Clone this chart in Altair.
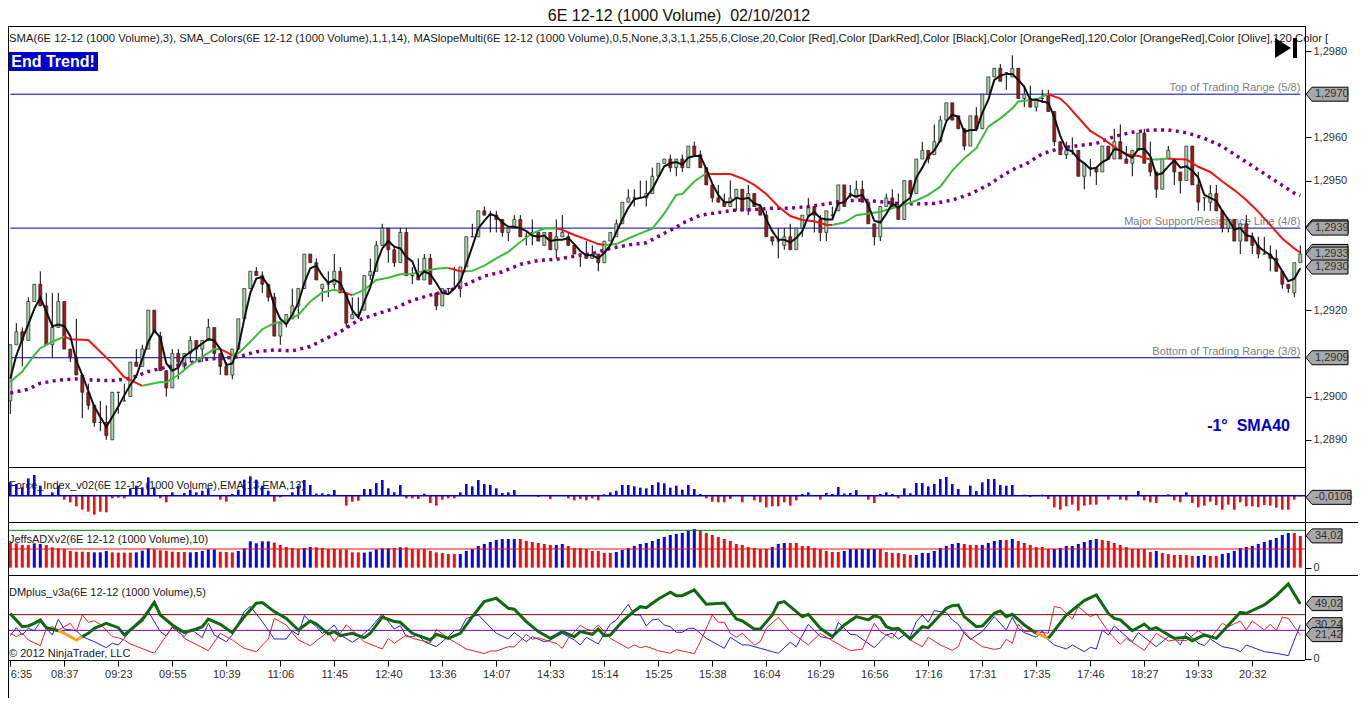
import altair as alt
import pandas as pd

FONT = "Liberation Sans"
TITLE = ["6E 12-12 (1000 Volume)\u00a0\u00a002/10/2012"]
SLOPE = ["-1°\u00a0\u00a0SMA40"]
IND_MAIN = ["SMA(6E 12-12 (1000 Volume),3), SMA_Colors(6E 12-12 (1000 Volume),1,1,14), MASlopeMulti(6E 12-12 (1000 Volume),0,5,None,3,3,1,1,255,6,Close,20,Color [Red],Color [DarkRed],Color [Black],Color [OrangeRed],120,Color [OrangeRed],Color [Olive],120,Color ["]
IND_FORCE = ["Force_Index_v02(6E 12-12 (1000 Volume),EMA,13,EMA,13)"]
IND_ADX = ["JeffsADXv2(6E 12-12 (1000 Volume),10)"]
IND_DM = ["DMplus_v3a(6E 12-12 (1000 Volume),5)"]
COPYR = ["© 2012 NinjaTrader, LLC"]
TIMES = ["6:35","08:37","09:23","09:55","10:39","11:06","11:45","12:40","13:36","14:07","14:33","15:14",
         "15:25","15:38","16:04","16:29","16:56","17:16","17:31","17:35","17:46","18:27","19:33","20:32"]

# prices are pips above 1,2900
o = [-1,12,15,13,22,26,21,12,16,22, 11,9,5,1,-2,-6,-6,-10,1,-1, 0,8,7,11,20,14,6,2,10,7,
     10,13,11,13,16,10,7,5,11,18, 25,29,28,26,23,14,17,18,21,25, 33,31,25,26,26,29,24,18,19,20,
     28,29,35,39,34,31,38,28,28,27, 32,24,21,25,25,25,30,37,37,43, 42,42,41,38,39,41,37,38,38,35,
     38,34,37,37,35,33,33,32,33,31, 36,37,40,45,46,46,46,47,51,54, 55,53,55,53,58,56,53,49,46,45,
     44,46,48,43,47,44,42,37,36,35, 37,34,39,42,44,41,38,42,43,49, 47,46,48,45,40,37,44,46,44,41,
     50,47,55,57,56,59,64,68,65,62, 58,65,62,70,74,76,75,74,76,69, 69,67,69,70,66,59,56,57,57,51,
     53,53,52,58,55,59,55,54,57,61, 54,52,48,55,55,52,50,58,49,46, 45,47,43,39,41,36,40,37,35,33,
     33,32,29,26,24,31]
c = [12,15,13,22,26,21,12,16,22,11, 9,5,1,-2,-6,-6,-9,1,1,-1, 8,7,11,20,15,6,2,10,8,10,
     13,11,13,16,10,7,5,11,18,25, 29,28,26,23,14,17,19,21,25,33, 31,27,26,26,29,24,17,19,19,28,
     29,35,39,34,31,38,28,28,27,32, 26,21,25,25,25,30,37,37,43,42, 42,41,38,39,41,37,37,38,36,38,
     34,37,38,35,33,33,32,33,31,36, 38,40,45,46,46,46,47,51,54,55, 53,55,53,58,56,53,49,46,45,44,
     46,48,43,47,44,42,37,36,36,37, 34,39,42,44,42,38,43,42,49,44, 47,48,45,40,37,44,46,44,41,50,
     47,55,57,55,59,64,68,64,62,58, 65,62,70,74,76,73,75,76,69,70, 67,69,69,66,59,56,57,57,51,54,
     53,52,58,55,59,55,54,57,61,54, 52,48,55,57,52,50,58,49,45,46, 47,43,39,41,36,40,36,35,33,33,
     32,29,26,25,31,33]
h = [12,17,16,23,26,29,24,24,24,22, 11,18,5,3,-2,-1,-2,1,1,3, 8,11,12,20,20,15,6,11,11,10,
     14,13,13,18,16,10,8,11,18,25, 29,30,29,26,24,17,19,25,25,33, 33,32,26,29,33,30,24,23,23,28,
     32,36,40,39,35,39,39,30,32,33, 33,24,25,25,30,30,37,40,43,44, 43,43,41,39,42,42,38,41,38,38,
     38,41,42,38,35,33,36,35,33,36, 38,41,45,48,48,50,50,53,54,55, 56,55,56,58,59,57,53,49,49,47,
     50,48,48,49,47,44,43,37,39,39, 40,39,42,46,44,42,43,44,49,49, 49,50,50,45,40,44,47,48,47,50,
     50,55,59,57,63,65,68,68,65,62, 65,67,70,74,76,77,75,79,76,72, 72,69,71,71,66,59,59,60,57,54,
     55,53,58,58,62,63,58,57,61,62, 59,52,55,58,55,52,58,58,52,46, 49,49,43,41,41,40,42,38,37,37,
     35,34,29,26,31,35]
l = [-4,12,7,13,22,21,12,9,16,11, 8,5,-5,-3,-7,-8,-10,-10,-4,-1, 0,7,7,11,15,6,0,2,4,6,
     8,8,8,13,9,5,5,4,11,18, 25,28,24,22,14,12,16,18,18,25, 31,27,22,23,25,24,16,18,18,20,
     27,29,35,31,30,31,28,26,27,27, 26,20,21,24,25,23,30,37,37,42, 38,38,37,36,39,37,35,35,36,35,
     34,32,37,35,33,30,32,32,29,31, 36,37,40,45,44,46,44,47,51,54, 52,51,52,53,56,53,49,45,45,44,
     44,43,43,42,44,42,37,35,32,34, 34,34,37,42,38,36,36,41,43,44, 46,46,45,40,35,36,44,44,41,41,
     45,47,55,54,56,59,64,64,62,57, 58,62,62,70,74,73,71,74,69,67, 67,66,68,66,58,56,55,56,51,48,
     51,49,52,55,55,55,54,51,57,54, 51,46,48,55,49,47,50,49,43,43, 43,43,38,38,36,33,36,33,32,33,
     29,29,25,24,23,31]
sma3 = [4.2,9.5,13.3,16.7,20.3,23,19.7,16.3,16.7,16.3, 14,8.3,5,1.3,-2.3,-4.7,-7,-4.7,-2.3,0.3,
        2.7,4.7,8.7,12.7,15.3,13.7,7.7,6,6.7,9.3, 10.3,11.3,12.3,13.3,13,11,7.3,7.7,11.3,18,
        24,27.3,27.7,25.7,21,18,16.7,19,21.7,26.3, 29.7,30.3,28,26.3,27,26.3,23.3,20,18.3,22,
        25.3,30.7,34.3,36,34.7,34.3,32.3,31.3,27.7,29, 28.3,26.3,24,23.7,25,26.7,30.7,34.7,39,40.7,
        42.3,41.7,40.3,39.3,39.3,39,38.3,37.3,37,37.3, 36,36.3,36.3,36.7,35.3,33.7,32.7,32.7,32,33.3,
        35,38,41,43.7,45.7,46,46.3,48,50.7,53.3, 54,54.3,53.7,55.3,55.7,55.7,52.7,49.3,46.7,45,
        45,46,45.7,46,44.7,44.3,41,38.3,36.3,36.3, 35.7,36.7,38.3,41.7,42.7,41.3,41,41,44.7,45,
        46.7,46.3,46.7,44.3,40.7,40.3,42.3,44.7,43.7,45, 46,50.7,53,55.7,57,59.3,63.7,65.3,64.7,61.3,
        61.7,61.7,65.7,68.7,73.3,74.3,74.7,74.7,73.3,71.7, 68.7,68.7,68.3,68,64.7,60.3,57.3,56.7,55,54,
        52.7,53,54.3,55,57.3,57,56,55.3,57.3,57.3, 55.7,51.3,51.7,53.3,54.7,53,53.3,52.3,50.7,46.7,
        46,45.3,43,41,38.7,39,37.3,37,34.7,33.7, 32.7,31.3,29,26.7,27.3,29.7]

# SMA_Colors line, by colour run
G, R = "#3dbb3d", "#f01414"
ma_runs = [
 (G,[0,2,4,5,7,9],[3.4,5.8,9.6,11.2,12.7,13.9]),
 (R,[9,10,13,15,17,19,20,22],[13.9,13.3,13.1,10.4,7.7,4.5,3.8,2.5]),
 (G,[22,23,25,26,28,30,32,34,35],[2.5,2.8,3.4,3.3,5,7.3,9.2,11,11]),
 (R,[35,37],[11,9.6]),
 (G,[37,38,40,42,44,46,48,50,52,54,55],[9.6,10,12.7,15.6,17,17.6,18.9,22,24.1,24.7,24.4]),
 (R,[55,57],[24.4,23.5]),
 (G,[57,59,61,63,65,67,69,71,73],[23.5,24.7,27,27.5,28.3,28.4,29.1,29.6,29.8]),
 (R,[73,75,76],[29.8,29,29]),
 (G,[76,77,79,81,83,85,87,89,91],[29,29.1,30.3,32,33.5,35.8,37.8,38.9,38.9]),
 (R,[91,92,94,96,98,99],[38.9,38.6,37.4,36.4,35.3,35.1]),
 (G,[99,101,103,105,107,109,111,112,114,116],[35.1,35.3,36.6,37.8,38.9,42.4,46.7,46.9,49.8,51.7]),
 (R,[116,117,120,122,124,126,128,130,132,134,136,137],[51.7,51.5,51.5,50.5,49,46.9,44,41.8,40.9,40.6,39.8,39.7]),
 (G,[137,139,141,143,145,147,149,151,153,155,157,159,161,163,165,167,168,169,171,173],
    [39.7,40.3,42,42.4,42.8,43.6,44.4,45.4,46.7,48.6,52.3,55.2,57.5,62.5,64.4,66.7,68.3,68.5,68.8,70]),
 (R,[173,175,176,178,180,182,184,186,188,190],[70,69,67.7,64.6,61.5,59.8,57.8,56.1,55.7,54.9]),
 (G,[190,191,192,193],[54.9,54.9,55,55.1]),
 (R,[193,194,196,198,200,202,204,206,208,210,212,214,215],[55.1,55,54.9,53.2,52,49.8,47.8,45.5,42.8,39.7,36.6,34.3,33.3]),
]
pur_i = [0,3,5,8,11,14,17,20,23,26,29,32,35,38,41,44,47,50,53,55,58,61,64,67,70,73,76,79,82,85,88,91,94,97,100,103,106,109,111,
         112,115,118,121,124,127,130,133,136,139,142,145,148,151,154,157,160,163,166,168,169,172,175,178,181,184,187,190,193,196,199,202,205,208,211,214,215]
pur_v = [0.8,1.7,3.1,3.8,4.1,3.8,3.7,4.2,5.8,6.8,7.5,8.5,8.9,9.2,10.4,10.8,10.6,11.6,13.7,15,17.7,19.1,20.4,22.3,23.5,24.5,26,27.9,28.9,30.6,31.5,31.8,32.5,33.1,34.3,35.1,35.6,37.8,39.2,
         40.1,42,42.6,43.2,43.3,43.6,43.6,44,44.6,45.3,45.5,45.1,44.7,44.6,44.7,45.5,46.9,49,51.7,53.2,53.6,56.2,57.5,58.1,58.6,60.2,61.2,61.7,61.7,61.1,59.8,57.9,55.2,52.5,49.8,47.1,46.5]

force = [40,35,25,52,62,30,0,10,30,-12, -20,-32,-42,-48,-57,-48,-50,-8,-6,-8, 22,30,25,55,25,-8,-20,10,2,8,
         18,10,15,22,2,-12,-18,5,18,48, 58,48,30,15,-18,-5,2,10,30,47, 32,6,7,5,17,0,-30,-18,-15,20,
         20,38,47,22,10,32,-8,-8,-10,6, -22,-30,-12,-8,-8,10,35,28,47,35, 32,22,8,10,17,0,0,0,-4,0,
         -10,0,0,-8,-14,-10,-14,-8,-14,4, 10,15,32,32,28,24,22,32,40,37, 24,30,18,32,20,5,-8,-18,-20,-20,
         -10,0,-20,0,-14,-20,-35,-32,-32,-20, -30,-14,5,10,0,-12,8,5,26,6, 8,17,2,-12,-22,5,10,5,-8,22,
         7,38,38,28,35,50,56,35,20,0, 30,14,40,50,50,32,30,32,0,3, -4,0,3,-10,-35,-42,-32,-27,-45,-30,
         -27,-27,0,-12,0,-12,-14,0,14,-14, -20,-22,0,4,-14,-20,10,-22,-35,-30, -18,-28,-42,-27,-42,-20,-32,-32,-35,-28,
         -30,-36,-42,-42,-12,-2]

adx = [27.1,26.1,24.3,24.3,26.1,25.4,24.3,21.8,20.7,20, 17.9,17.1,17.1,16.8,16.4,16.4,17.9,16.4,16.1,16.1,
       16.1,16.4,18.2,20.7,19.6,18.6,17.9,17.1,16.8,16.8, 16.4,16.8,17.9,19.6,19.6,17.1,16.8,16.4,17.9,20.7,
       28.2,26.1,28.2,28.2,26.8,24.3,22.1,21.1,20,21.1, 22.1,21.8,21.1,20,20,19.6,19.6,16.4,16.4,16.1,
       17.1,19.6,20.7,20.7,21.1,21.8,21.8,20,19.6,20, 17.9,16.4,15.7,14.6,14.6,14.6,17.9,20,23.2,25.4,
       27.5,29.6,30.7,30.7,30.7,30.7,28.6,27.5,26.4,25.4, 24.3,24.3,25.4,23.2,21.1,21.1,20,17.9,17.9,15.7,
       15.7,16.8,18.9,21.1,23.2,25.4,26.4,28.6,30.7,32.9, 35,36.1,37.1,40,41.4,40,37.1,35,32.9,30.7,
       28.6,25.4,24.3,22.1,21.1,20,20,22.1,25.4,26.4, 26.4,26.4,23.2,23.2,21.1,20,17.9,16.8,16.8,17.9,
       20,20,20,20,20,20,16.8,15.7,15.7,14.6, 13.6,13.6,15.7,15.7,17.9,21.1,23.2,25.4,26.4,25.4,
       24.3,24.3,24.3,26.4,28.6,29.6,29.6,30.7,28.6,26.4, 24.3,22.1,22.1,20,20,21.1,23.2,23.2,25.4,27.5,
       29.6,30.7,29.6,28.6,26.4,24.3,22.1,20,20,20, 16.8,17.9,15.7,14.6,13.6,13.6,13.6,12.5,12.5,13.6,
       12.5,12.5,14.6,15.7,17.9,21.1,22.1,23.2,25.4,27.5, 29.6,31.8,35,37.1,37.1,34.02]
# colour of the ADX histogram, run by run
adx_runs = [("r",4),("b",2),("r",8),("b",3),("r",4),("b",3),("r",6),("b",5),("r",3),("b",6),("r",5),("b",2),
            ("r",8),("b",5),("r",1),("b",1),("r",9),("b",10),("r",6),("b",2),("r",8),("b",14),("r",12),("b",3),
            ("r",9),("b",6),("r",6),("b",8),("r",3),("b",4),("r",1),("b",1),("r",6),("b",8),("r",9),("b",1),
            ("r",6),("b",2),("r",2),("b",12),("r",2)]

dm_g_i = [0,2,3,4,5,6,8]
dm_g_v = [40.1,28.5,29.1,31.5,34.5,27.6,24.9]
dm_o1_i = [8,9,10,11,12]
dm_o1_v = [24.9,22.6,19.6,16.6,19.6]
dm_g2_i = [12,13,14,16,18,19,21,22,24,25,27,29,31,32,33,35,37,39,41,42,44,46,48,50,51,53,54,55,57,59,60,62,64,65,67,70,71,73,75,77,79,81,83,84,86,88,90,92,94,95,97,98,99,100,102,104,105,106,108,110,111,112,114,116,119,121,122,124,125,127,128,129,131,132,133,135,137,139,141,143,144,145,146,147,148,150,152,153,156,157,158,159,161,162,164,165,166,167,169,171]
dm_g2_v = [19.6,22.6,27,31.5,27.6,21.1,30,34.5,50.2,38.9,30,23.2,26.4,28.5,35.3,30.6,23.2,37.4,49.3,49.9,41.9,35.9,25.5,33.6,30.9,22,24.1,20.5,22.6,18.7,22.6,37.1,33,32.4,22.6,16.6,21.7,18.1,22.6,37.4,50.8,53.8,44.8,44,33,24.1,18.1,24.1,19.6,24.1,21.7,26.4,20.5,21.1,33,42.5,46.3,45.4,53.2,59.1,56.1,56.1,61.2,48.4,49.6,35.3,33.6,26.4,26.4,38.9,49.6,50.8,41.9,37.4,39.5,27,19.6,30,37.4,34.5,38.3,36.5,28.5,26.4,27,17.5,28.5,27.6,44.8,47.2,47.8,37.4,28.5,29.1,40.4,42.5,37.4,39.5,30,22.6]
dm_o2_i = [171,172,173]
dm_o2_v = [22.6,20.5,18.1]
dm_g3_i = [173,176,179,181,183,184,185,187,189,190,191,194,196,197,199,201,205,206,209,211,213,215]
dm_g3_v = [18.1,38.9,51.7,56.7,40.4,35.9,34.5,24.9,30.9,26.1,27.6,18.1,19,16,21.1,18.1,41.3,40.4,47.8,56.1,66.5,48.7]

dm_b_i = [0,1,2,3,4,5,6,7,8,9,11,12,14,16,17,18,19,21,23,25,26,27,29,30,32,33,34,36,37,39,40,42,44,46,47,48,49,50,51,52,53,54,55,57,58,60,62,64,65,66,67,68,69,71,73,74,
          75,76,78,81,83,84,86,87,89,90,92,94,95,96,98,100,101,103,104,105,106,107,108,109,110,111,112,113,114,115,116,118,119,120,122,123,125,127,128,130,131,133,135,137,138,140,141,144,146,147,148,149,
          150,151,152,153,154,156,157,158,159,160,162,164,166,167,168,169,171,172,173,174,176,177,179,180,181,182,183,184,187,188,191,193,194,195,196,198,199,200,202,204,205,206,209,211,213,215]
dm_b_v = [20.5,27.6,21.1,27,24.9,33,27,21.1,35,26.4,24.9,19.6,15.1,9.8,13.7,12.2,18.1,31.5,41.9,24.1,20.2,27.9,19.6,26.4,18.7,31.5,21.1,15.1,21.1,41.9,46.6,33,17.5,17.5,24.7,21.1,38.3,33,28.5,22.6,25.5,30,21.1,14.6,18.1,27,39.8,26.4,29.4,19.6,19.6,21.1,15.1,10.7,19.6,24.9,
          25.5,35.9,38.9,22.6,17.5,23.2,15.1,19.6,15.1,16.6,22.6,16.6,12.2,19,13.1,30.9,34.5,48.4,38.9,38.9,29.1,34.5,35.3,30,28.5,23.5,23.5,27,27,22.6,18.1,12.2,9.2,19,12.2,12.2,9.2,6.2,4.8,14.6,10.7,30.6,19.6,17.5,32.4,21.7,21.1,9.8,21.1,22.6,17.5,21.1,
          19.6,33,38.9,32.4,42.8,41,34.5,30.6,22.6,17.2,24.1,37.4,25.5,36.8,27,23.2,19,24.9,16.6,12.2,8.6,12.2,6.2,10.1,8.6,25.5,21.1,29.1,15.1,23.2,10.7,19.6,18.1,12.2,23.2,13.7,11.6,17.5,10.7,8.6,6.2,12.2,6.2,4.8,2.7,30.2]

dm_r_i = [0,1,2,3,5,6,7,8,10,11,12,13,14,15,17,18,19,20,24,27,28,29,33,35,37,39,41,43,44,46,48,50,53,54,56,57,59,62,63,64,66,67,70,71,73,74,76,79,80,81,83,84,86,87,88,90,91,92,93,95,96,97,98,100,103,104,105,106,108,110,111,114,115,117,118,119,120,121,122,124,125,126,128,130,133,135,137,140,142,144,145,147,148,
          150,152,153,155,157,158,159,160,162,164,165,166,167,168,169,171,173,174,175,177,178,180,181,183,185,186,189,191,193,194,196,198,200,202,203,205,206,207,209,210,211,212,213,215]
dm_r_v = [22.6,19.6,22.6,16.6,11.6,27,28.5,25.5,31.5,24.1,38.9,32.4,33.6,30.6,19.6,18.7,16.6,13.1,4.8,28.5,25.5,18.1,7.1,22.6,16.6,9.2,6.2,17.5,35.9,30,16.6,11.6,24.1,15.1,30,25.5,15.1,8.6,18.1,13.7,21.1,18.1,14.3,26.1,18.1,15.1,8.6,4.5,6.8,6.8,10.7,10.4,21.7,17.2,18.7,15.1,13.7,9.2,18.1,29.7,26.4,24.9,30,18.1,9.2,12.2,9.8,11,7.1,4.8,8,4.5,15.1,38.9,32.4,32.4,22.6,19,22.6,12.2,15.1,27,36.8,24.1,12.2,22.6,16,7.1,8.6,31.5,24.1,18.1,27,
          16.6,10.7,19,12.2,7.4,10.7,24.1,18.1,10.7,8.3,9.2,17.2,13.7,30.6,24.1,24.1,22.6,46.3,45.4,35.3,46.3,37.4,39.8,24.1,12.8,18.1,7.4,22.6,15.7,16.6,16,24.9,18.1,31.5,28.5,33.6,25.5,33.6,25.5,30.6,24.9,36.8,35.9,21.1]

ranges_v = [70, 39, 9]
ranges_t = ["Top of Trading Range (5/8)", "Major Support/Resistance Line (4/8)", "Bottom of Trading Range (3/8)"]
tag_main_v = [70, 39.3, 39, 33.6, 33, 30, 9]
tag_main_t = ["1,2970", "", "1,2939", "", "1,2933", "1,2930", "1,2909"]

N = 216
adx_c = [k for k, n in adx_runs for _ in range(n)]
assert all(len(a) == N for a in (o, c, h, l, sma3, force, adx, adx_c))
assert len(pur_i) == len(pur_v) and len(dm_b_i) == len(dm_b_v) and len(dm_r_i) == len(dm_r_v) and len(dm_g2_i) == len(dm_g2_v)

SVG_W, SVG_H = 1350, 690      # whole drawing area, the page margin sits left and above
W = 1297                      # right edge of the panels
TOP, F_TOP, A_TOP, D_TOP, BOT = 18, 459, 514, 567, 652   # panel edges
idx = list(range(N))

def ys(lo, hi, plo, phi):
    return alt.Scale(domain=[lo, hi], range=[plo, phi], nice=False, zero=False, padding=0)

xs = alt.Scale(domain=[0, 215], range=[2.3, 1292.3], nice=False, zero=False, padding=0)
Y0 = ys(-10, 80, 431.8, 43)
Y1 = ys(-79, 86, A_TOP, F_TOP)
Y2 = ys(-7.86, 48.9, D_TOP, A_TOP)
Y3 = ys(-1.19, 74.5, BOT, D_TOP)

def yq(s, f="v"):
    return alt.Y(f + ":Q", scale=s, axis=None)

XQ = alt.X("i:Q", scale=xs)

def label(t, px, py, **kw):
    return alt.Chart(pd.DataFrame({"t": t})).mark_text(font=FONT, align="left", baseline="middle", **kw).encode(
        text="t:N", x=alt.value(px), y=alt.value(py))

def line(i, v, s, color, width, **kw):
    return alt.Chart(pd.DataFrame({"i": i, "v": v})).mark_line(color=color, strokeWidth=width, **kw).encode(x=XQ, y=yq(s))

def hrule(vals, s, color, width=1):
    return alt.Chart(pd.DataFrame({"v": vals})).mark_rule(color=color, strokeWidth=width).encode(
        x=alt.value(0), x2=alt.value(W), y=yq(s))

def tags(vals, texts, s, w):
    path = f"M0,0L0.6,-0.7L{w},-0.7L{w},0.7L0.6,0.7Z"
    d = pd.DataFrame({"v": vals, "t": texts})
    a = alt.Chart(d).mark_point(shape=path, size=400, filled=True, fill="#a8a8a8", stroke="black", strokeWidth=1, opacity=1).encode(
        x=alt.value(W + 1), y=yq(s))
    b = alt.Chart(d).mark_text(font=FONT, fontSize=11, align="left", baseline="middle", color="#303030").encode(
        x=alt.value(W + 10), y=yq(s), text="t:N")
    return [a, b]

def hsep(py, x2=W):
    return alt.Chart(pd.DataFrame({"y": [0]})).mark_rule(color="black", strokeWidth=1).encode(
        x=alt.value(0), x2=alt.value(x2), y=alt.value(py))

def vsep(px, y1, y2):
    return alt.Chart(pd.DataFrame({"y": [0]})).mark_rule(color="black", strokeWidth=1).encode(
        x=alt.value(px), y=alt.value(y1), y2=alt.value(y2))

X_OFF, Y_OFF = W - SVG_W, BOT - SVG_H   # axes are pulled in from the drawing area's edges

# ------- main price panel
ohlc = pd.DataFrame({"i": idx, "o": o, "c": c, "h": h, "l": l})
ohlc["col"] = ["#a8d4a8" if b >= a else "#a01818" for a, b in zip(o, c)]
dm_axis_x = alt.Axis(values=[9 * k for k in range(len(TIMES))], title=None, grid=False, domain=False, offset=Y_OFF,
                     labelExpr="[" + ",".join(f"'{t}'" for t in TIMES) + "][round(datum.value/9)]",
                     labelAlign={"condition": {"test": "datum.value == 0", "value": "left"}, "value": "center"},
                     labelOverlap=False)
axis_price = alt.Axis(orient="right", title=None, values=[-10, 0, 20, 50, 60, 80], offset=X_OFF,
                      labelExpr="'1,' + (2900 + datum.value)", grid=False, domain=False)
p_lines = alt.Chart(pd.DataFrame({"v": ranges_v, "i": [0, 0, 0], "b": [215, 215, 215]})).mark_rule(color="#0000aa", strokeWidth=1).encode(
    x=alt.X("i:Q", scale=xs, axis=dm_axis_x), x2="b:Q", y=alt.Y("v:Q", scale=Y0, axis=axis_price))
p_range = alt.Chart(pd.DataFrame({"v": ranges_v, "t": ranges_t, "i": [215, 215, 215]})).mark_text(
    font=FONT, fontSize=11, align="right", baseline="bottom", dy=-1, color="#808080").encode(x=XQ, y=yq(Y0), text="t:N")
wick = alt.Chart(ohlc).mark_rule(color="black", strokeWidth=1).encode(x=XQ, y=yq(Y0, "l"), y2="h:Q")
body = alt.Chart(ohlc).mark_bar(size=3, stroke="#202020", strokeWidth=0.7).encode(
    x=XQ, y=yq(Y0, "o"), y2="c:Q", fill=alt.Fill("col:N", scale=None))
p_pur = line(pur_i, pur_v, Y0, "#800080", 3.5, strokeDash=[3, 4.4])
p_ma = [line(i, v, Y0, col, 2) for col, i, v in ma_runs]
p_sma = line(idx, sma3, Y0, "#101010", 2)
end_box = alt.Chart(pd.DataFrame({"t": ["x"]})).mark_rect(color="#0000cd").encode(
    x=alt.value(0), x2=alt.value(90), y=alt.value(44), y2=alt.value(63))
play = alt.Chart(pd.DataFrame({"t": ["x"]})).mark_point(
    shape="M-11,-10L5,0L-11,10ZM7,-10L11,-10L11,10L7,10Z", size=4, filled=True, fill="black", opacity=1).encode(
    x=alt.value(1278), y=alt.value(40))

main_layers = [
    p_lines, p_range, wick, body, p_pur, *p_ma, p_sma,
    label(IND_MAIN, 1, 30.5, fontSize=11.3, color="#202020"),
    end_box,
    alt.Chart(pd.DataFrame({"t": ["End Trend!"]})).mark_text(font=FONT, fontSize=16, fontWeight="bold", color="white", baseline="middle").encode(
        text="t:N", x=alt.value(45), y=alt.value(53.5)),
    play,
    alt.Chart(pd.DataFrame({"t": SLOPE})).mark_text(font=FONT, fontSize=16, fontWeight="bold", color="#0000cd", align="right", baseline="middle").encode(
        text="t:N", x=alt.value(1282), y=alt.value(418)),
    alt.Chart(pd.DataFrame({"t": TITLE})).mark_text(font=FONT, fontSize=16, color="#101010", baseline="middle").encode(
        text="t:N", x=alt.value(671), y=alt.value(8)),
    *tags(tag_main_v, tag_main_t, Y0, 4.2),
]

# ------- force index panel
fdf = pd.DataFrame({"i": idx, "v": force})
fdf["col"] = ["#0808d8" if v >= 0 else "#ee1010" for v in force]
force_layers = [
    label(IND_FORCE, 1, 478, fontSize=11, color="#202020"),
    alt.Chart(fdf).mark_bar(size=2.6).encode(x=XQ, y=yq(Y1), y2=alt.datum(0), fill=alt.Fill("col:N", scale=None)),
    hrule([0], Y1, "#0000c0", 1.5),
    *tags([-5], ["-0,0106"], Y1, 4.5),
]

# ------- ADX panel
adf = pd.DataFrame({"i": idx, "v": adx})
adf["col"] = ["#0808d8" if a == "b" else "#ee1010" for a in adx_c]
adx_layers = [
    alt.Chart(adf).mark_bar(size=3).encode(
        x=XQ,
        y=alt.Y("v:Q", scale=Y2, axis=alt.Axis(orient="right", title=None, values=[0], grid=False, domain=False, offset=X_OFF)),
        y2=alt.datum(0), fill=alt.Fill("col:N", scale=None)),
    hrule([40], Y2, "#008000"),
    hrule([20], Y2, "#ee1010"),
    label(IND_ADX, 1, 532, fontSize=11, color="#202020"),
    *tags([34.02], ["34,02"], Y2, 3.6),
]

# ------- DM panel
dm_first = alt.Chart(pd.DataFrame({"i": dm_b_i, "v": dm_b_v})).mark_line(color="#2222dd", strokeWidth=1).encode(
    x=XQ,
    y=alt.Y("v:Q", scale=Y3, axis=alt.Axis(orient="right", title=None, values=[0], grid=False, domain=False, offset=X_OFF)))
dm_layers = [
    dm_first,
    line(dm_r_i, dm_r_v, Y3, "#ee2020", 1),
    hrule([39.2], Y3, "#800000"),
    hrule([25.2], Y3, "#8000c0"),
    line(dm_g_i, dm_g_v, Y3, "#0f6a0f", 3),
    line(dm_o1_i, dm_o1_v, Y3, "#f5a623", 3),
    line(dm_g2_i, dm_g2_v, Y3, "#0f6a0f", 3),
    line(dm_o2_i, dm_o2_v, Y3, "#f5a623", 3),
    line(dm_g3_i, dm_g3_v, Y3, "#0f6a0f", 3),
    label(IND_DM, 1, 585, fontSize=11, color="#202020"),
    label(COPYR, 1, 646, fontSize=11, color="#202020"),
    *tags([30.24, 21.42, 49.02], ["30,24", "21,42", "49,02"], Y3, 3.6),
]

frame = [hsep(TOP + 0.5), hsep(F_TOP + 0.5), hsep(A_TOP + 0.5, SVG_W), hsep(D_TOP + 0.5, SVG_W), hsep(BOT + 0.5),
         vsep(0.5, TOP, SVG_H), vsep(W + 0.5, TOP, BOT)]

chart = alt.layer(*main_layers, *force_layers, *adx_layers, *dm_layers, *frame,
                  padding={"left": 0, "right": 0, "top": 0, "bottom": 0}, background="white").properties(
    width=SVG_W, height=SVG_H, autosize=alt.AutoSizeParams(type="none")
).resolve_scale(y="independent").configure_view(stroke="transparent").configure_axis(
    labelFont=FONT, labelFontSize=11, labelColor="#303030", tickColor="black", tickSize=6, labelPadding=2
)

chart.save("out.html", embed_options={"renderer": "svg", "actions": False})
